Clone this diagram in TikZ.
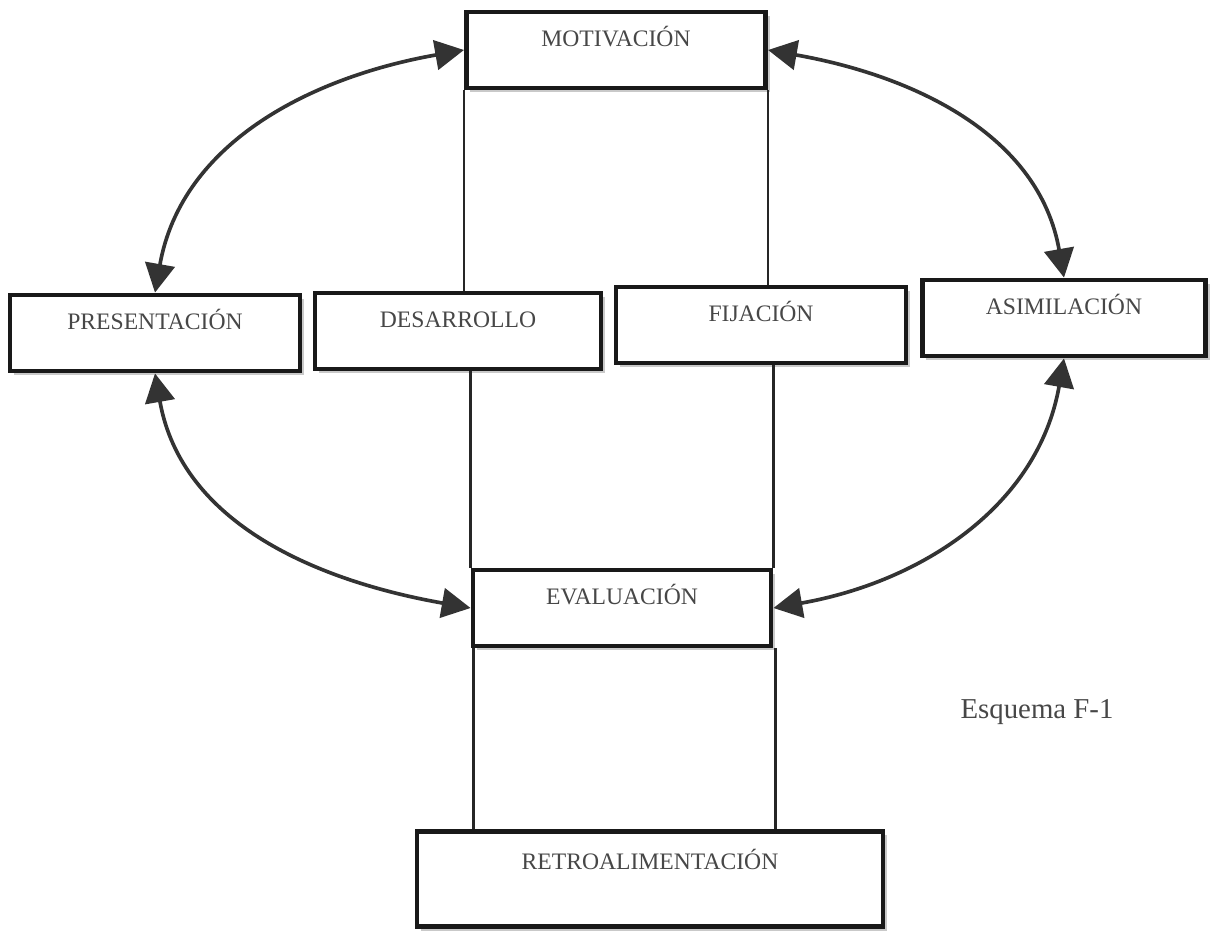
\documentclass[tikz,border=0pt]{standalone}
\usepackage{fontspec}
\setmainfont{Liberation Serif}
\usetikzlibrary{arrows.meta,shadows}
\tikzset{
	etapa/.style={rectangle,draw=black!90,line width=3.4pt,fill=white,text=black!72,font=\fontsize{16.8}{19}\selectfont,inner xsep=0pt,inner ysep=0pt,text height=0.86cm,text depth=1.04cm,drop shadow={shadow xshift=0.1cm,shadow yshift=-0.1cm,fill=black!30,opacity=0.7}},
	edge/.style={color=black!85, line width=2pt},
	diredge/.style={{Triangle[length=0.72cm,width=0.74cm]}-{Triangle[length=0.72cm,width=0.74cm]},color=black!80,line width=2.6pt},
	rotulo/.style={text=black!72,font=\fontsize{20.5}{24}\selectfont}
}
\begin{document}
\begin{tikzpicture}[x=0.025cm,y=-0.025cm]
	\useasboundingbox (0,0) rectangle (1220,934);

	%%etapas
	\node[etapa,minimum width=7.48cm] (motiv) at (616,50) {MOTIVACIÓN};
	\node[etapa,minimum width=7.25cm] (pres) at (155,333) {PRESENTACIÓN};
	\node[etapa,minimum width=7.15cm] (desa) at (458,331) {DESARROLLO};
	\node[etapa,minimum width=7.25cm] (fija) at (761,325) {FIJACIÓN};
	\node[etapa,minimum width=7.08cm] (asim) at (1064,318) {ASIMILACIÓN};
	\node[etapa,minimum width=7.45cm] (eval) at (622,608) {EVALUACIÓN};
	\node[etapa,minimum width=11.65cm,text height=0.94cm,text depth=1.44cm] (retro) at (650,879) {RETROALIMENTACIÓN};

	%%lineas verticales
	\draw[edge] (motiv.south west) -- (motiv.south west |- desa.north);
	\draw[edge] (motiv.south east) -- (motiv.south east |- fija.north);
	\draw[edge] (eval.north west |- desa.south) -- (eval.north west);
	\draw[edge] (eval.north east |- fija.south) -- (eval.north east);
	\draw[edge] ([xshift=0.08cm]eval.south west) -- ([xshift=0.08cm]eval.south west |- retro.north);
	\draw[edge] ([xshift=0.06cm]eval.south east) -- ([xshift=0.06cm]eval.south east |- retro.north);

	%%flechas curvas
	\draw[diredge] (pres.north) to [out=80,in=190] (motiv.west);
	\draw[diredge] (motiv.east) to [out=-10,in=100] (asim.north);
	\draw[diredge] (pres.south) to [out=-80,in=170] (eval.west);
	\draw[diredge] (asim.south) to [out=-100,in=10] (eval.east);

	\node[rotulo,anchor=base] (esquema) at (1037,718) {Esquema F-1};
\end{tikzpicture}
\end{document}
